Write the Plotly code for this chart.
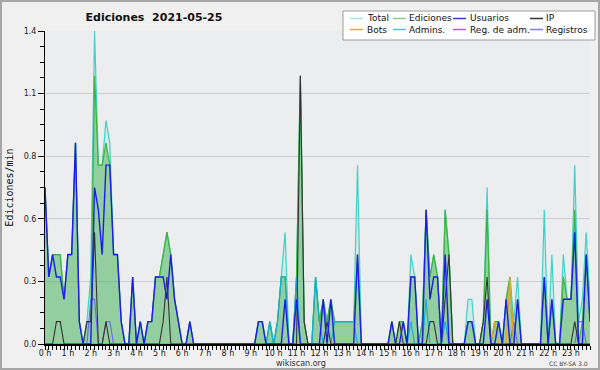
import plotly.graph_objects as go

# ---------------- data (10-minute slots, edits per minute) ----------------
hours = list(range(24))
hour_labels = [f"{h} h" for h in hours]
ytick_vals = [0, 0.28, 0.56, 0.84, 1.12, 1.4]
ytick_text = ["0.0", "0.3", "0.6", "0.8", "1.1", "1.4"]
slots = list(range(144))

total = [
    0.7, 0.3, 0.4, 0.4, 0.4, 0.2,   0.4, 0.4, 0.9, 0.1, 0, 0.1,
    0.3, 1.4, 0.8, 0.8, 1.0, 0.9,   0.4, 0.4, 0.1, 0, 0, 0.3,
    0, 0.1, 0, 0.1, 0.1, 0.3,       0.3, 0.4, 0.5, 0.4, 0.2, 0.1,
    0, 0, 0.1, 0, 0, 0,             0, 0, 0, 0, 0, 0,
    0, 0, 0, 0, 0, 0,               0, 0, 0.1, 0.1, 0, 0.1,
    0, 0.1, 0.3, 0.5, 0, 0,         0.3, 1.2, 0.1, 0, 0, 0.3,
    0.1, 0.2, 0.1, 0.2, 0.1, 0.1,   0.1, 0.1, 0.1, 0.1, 0.8, 0,
    0, 0, 0, 0, 0, 0,               0, 0.1, 0, 0.1, 0.1, 0,
    0.4, 0.3, 0, 0.1, 0.6, 0.3,     0.4, 0.3, 0, 0.6, 0.4, 0,
    0, 0, 0, 0.2, 0.2, 0,           0, 0.1, 0.7, 0, 0.1, 0.1,
    0, 0.2, 0.3, 0.1, 0.3, 0,       0, 0, 0, 0, 0, 0.6,
    0, 0.4, 0, 0, 0.4, 0.2,         0.2, 0.8, 0.1, 0.2, 0.5, 0.2,
]
ediciones = [
    0.7, 0.3, 0.4, 0.4, 0.4, 0.2,   0.4, 0.4, 0.9, 0.1, 0, 0.1,
    0.1, 1.2, 0.8, 0.8, 0.9, 0.8,   0.4, 0.4, 0.1, 0, 0, 0.3,
    0, 0.1, 0, 0.1, 0.1, 0.3,       0.3, 0.4, 0.5, 0.4, 0.2, 0.1,
    0, 0, 0.1, 0, 0, 0,             0, 0, 0, 0, 0, 0,
    0, 0, 0, 0, 0, 0,               0, 0, 0.1, 0.1, 0, 0.1,
    0, 0.1, 0.3, 0.3, 0, 0,         0.3, 1.2, 0.1, 0, 0, 0.3,
    0.1, 0.2, 0.1, 0.2, 0.1, 0.1,   0.1, 0.1, 0.1, 0.1, 0.4, 0,
    0, 0, 0, 0, 0, 0,               0, 0.1, 0, 0.1, 0.1, 0,
    0.3, 0.3, 0, 0.1, 0.6, 0.3,     0.4, 0.3, 0, 0.6, 0.4, 0,
    0, 0, 0, 0.1, 0.1, 0,           0, 0.1, 0.6, 0, 0.1, 0.1,
    0, 0.2, 0.3, 0, 0.2, 0,         0, 0, 0, 0, 0, 0.3,
    0, 0.2, 0, 0, 0.3, 0.2,         0.2, 0.6, 0, 0.1, 0.4, 0.1,
]
usuarios = [
    0.7, 0.3, 0.4, 0.3, 0.3, 0.2,   0.4, 0.4, 0.9, 0.1, 0, 0,
    0, 0.7, 0.6, 0.4, 0.8, 0.8,     0.4, 0.4, 0.1, 0, 0, 0.3,
    0, 0.1, 0, 0.1, 0.1, 0.3,       0.3, 0.3, 0.2, 0.4, 0.2, 0.1,
    0, 0, 0.1, 0, 0, 0,             0, 0, 0, 0, 0, 0,
    0, 0, 0, 0, 0, 0,               0, 0, 0.1, 0.1, 0, 0,
    0, 0, 0, 0.2, 0, 0,             0.2, 0, 0, 0, 0, 0,
    0, 0.2, 0, 0.2, 0, 0,           0, 0, 0, 0, 0.4, 0,
    0, 0, 0, 0, 0, 0,               0, 0.1, 0, 0, 0.1, 0,
    0.3, 0.3, 0, 0, 0.6, 0.2,       0.3, 0.3, 0, 0.4, 0, 0,
    0, 0, 0, 0.1, 0.1, 0,           0, 0, 0.2, 0, 0, 0.1,
    0, 0.2, 0, 0, 0.2, 0,           0, 0, 0, 0, 0, 0.3,
    0, 0.2, 0, 0, 0.2, 0.2,         0.2, 0.5, 0, 0, 0.4, 0.1,
]
ip = [
    0, 0, 0, 0.1, 0.1, 0,           0, 0, 0, 0, 0, 0.1,
    0.1, 0.5, 0, 0, 0.1, 0,         0, 0, 0, 0, 0, 0,
    0, 0, 0, 0, 0, 0,               0, 0.1, 0.3, 0, 0, 0,
    0, 0, 0, 0, 0, 0,               0, 0, 0, 0, 0, 0,
    0, 0, 0, 0, 0, 0,               0, 0, 0, 0, 0, 0,
    0, 0, 0, 0, 0, 0,               0, 1.2, 0.1, 0, 0, 0,
    0, 0, 0.1, 0, 0, 0,             0, 0, 0, 0, 0, 0,
    0, 0, 0, 0, 0, 0,               0, 0, 0, 0.1, 0, 0,
    0, 0, 0, 0, 0, 0.1,             0.1, 0, 0, 0.2, 0.4, 0,
    0, 0, 0, 0, 0, 0,               0, 0.1, 0.3, 0, 0, 0,
    0, 0, 0, 0, 0, 0,               0, 0, 0, 0, 0, 0,
    0, 0, 0, 0, 0, 0,               0, 0.1, 0, 0, 0, 0,
]
bots = [0] * 118 + [0.1, 0, 0, 0, 0.3] + [0] * 21
admins = (
    [0] * 59 + [0.1, 0, 0.1, 0.3, 0.3, 0, 0, 0.3, 0, 0, 0, 0, 0.3,
                0.1, 0, 0, 0, 0.1, 0.1, 0.1, 0.1, 0.1, 0.1]
    + [0] * 14 + [0.1, 0, 0, 0, 0.2, 0, 0, 0, 0, 0.1] + [0] * 38
)
reg_adm = [0] * 144
registros = (
    [0] * 12 + [0.2, 0.2, 0, 0, 0.1, 0.1] + [0] * 105
    + [0.1] + [0] * 16 + [0.1, 0.1, 0, 0]
)

series = [
    ("Total", total), ("Ediciones", ediciones), ("Usuarios", usuarios), ("IP", ip),
    ("Bots", bots), ("Admins.", admins), ("Reg. de adm.", reg_adm), ("Registros", registros),
]

# ---------------- styles ----------------
line_colors = {
    "Total": "#3fd2c6", "Ediciones": "#3cb43c", "Usuarios": "#1c1ce8", "IP": "#333333",
    "Bots": "#f0a020", "Admins.": "#16acdc", "Reg. de adm.": "#cc33cc", "Registros": "#6868f2",
}
legend_colors = {
    "Total": "#a6e4dc", "Ediciones": "#86d086", "Usuarios": "#3a3ad0", "IP": "#333333",
    "Bots": "#f0a040", "Admins.": "#4cc6d6", "Reg. de adm.": "#d050d0", "Registros": "#7c7cee",
}
widths = {"Total": 1.2, "Ediciones": 1.2, "Usuarios": 1.4, "IP": 1.1,
          "Bots": 1.3, "Admins.": 1.2, "Reg. de adm.": 1.0, "Registros": 1.1}
fills = {"Total": "rgba(120,225,214,0.22)", "Ediciones": "rgba(60,168,60,0.42)"}
draw_order = ["Total", "Ediciones", "Registros", "Reg. de adm.", "Admins.", "Bots", "IP", "Usuarios"]

data = dict(series)
fig = go.Figure()
for name in draw_order:
    kw = {}
    if name in fills:
        kw = dict(fill="tozeroy", fillcolor=fills[name])
    fig.add_trace(go.Scatter(
        x=slots, y=data[name], name=name, mode="lines",
        line=dict(color=line_colors[name], width=widths[name]),
        showlegend=False, hoverinfo="skip", **kw))

# plot-area pixel geometry
PL, PR, PT, PB = 45, 590, 31, 344
def px(x):
    return (x - PL) / (PR - PL)
def py(y):
    return (PB - y) / (PB - PT)

FONT = "DejaVu Sans"
shapes = [
    dict(type="rect", xref="paper", yref="paper", x0=px(1), x1=px(599), y0=py(369), y1=py(1),
         line=dict(color="#a6a6a6", width=2), layer="above"),
    dict(type="rect", xref="paper", yref="paper", x0=px(343), x1=px(595), y0=py(40), y1=py(11),
         line=dict(color="#9c9c9c", width=1), fillcolor="#ffffff", layer="above"),
]
annotations = []
legend_cols_line = [350, 393, 453, 530]
legend_cols_text = [366, 408, 469, 545]
legend_rows = [18.5, 29.5]
for k, (name, _) in enumerate(series):
    col, row = k % 4, k // 4
    yy = legend_rows[row]
    shapes.append(dict(type="line", xref="paper", yref="paper",
                       x0=px(legend_cols_line[col]), x1=px(legend_cols_line[col] + 13),
                       y0=py(yy), y1=py(yy), line=dict(color=legend_colors[name], width=1.5),
                       layer="above"))
    annotations.append(dict(text=name, xref="paper", yref="paper", x=px(legend_cols_text[col]),
                            y=py(yy), xanchor="left", yanchor="middle", showarrow=False,
                            borderpad=0, font=dict(family=FONT, size=9, color="#111111")))

annotations.append(dict(text="wikiscan.org", xref="paper", yref="paper", x=px(301), y=py(363),
                        xanchor="center", yanchor="middle", showarrow=False,
                        font=dict(family=FONT, size=8, color="#333333")))
annotations.append(dict(text="CC BY-SA 3.0", xref="paper", yref="paper", x=px(590), y=py(363),
                        xanchor="right", yanchor="middle", showarrow=False,
                        font=dict(family=FONT, size=6, color="#444444")))

fig.update_layout(
    width=600, height=370,
    margin=dict(l=PL, r=600 - PR, t=PT, b=370 - PB, pad=0),
    paper_bgcolor="#f0f0f0", plot_bgcolor="#ecedef",
    title=dict(text="<b>Ediciones\u00a0 2021-05-25</b>", x=154 / 600, xref="container",
               xanchor="center", y=1 - 17 / 370, yref="container", yanchor="middle",
               font=dict(family=FONT, size=11, color="#111111")),
    showlegend=False,
    shapes=shapes, annotations=annotations,
    hovermode=False,
)
fig.update_xaxes(
    range=[0, 143], tickvals=[6 * h for h in hours], ticktext=hour_labels,
    ticks="outside", ticklen=4, tickwidth=1, tickcolor="#000000",
    minor=dict(dtick=1, tick0=0, ticks="outside", ticklen=4, tickcolor="#000000", showgrid=False),
    showline=True, linecolor="#000000", linewidth=2, showgrid=False, zeroline=False,
    tickfont=dict(family=FONT, size=8, color="#222222"),
    ticklabelstandoff=-4,
)
fig.update_yaxes(
    range=[0, 1.4], tickvals=ytick_vals, ticktext=ytick_text,
    ticks="outside", ticklen=6, tickwidth=1, tickcolor="#000000",
    minor=dict(dtick=0.07, tick0=0, ticks="outside", ticklen=4, tickcolor="#000000", showgrid=False),
    showline=True, linecolor="#000000", linewidth=1, showgrid=True, gridcolor="#cdced2",
    gridwidth=1, zeroline=False,
    tickfont=dict(family=FONT, size=8, color="#222222"),
    title=dict(text="Ediciones/min", standoff=8,
               font=dict(family="DejaVu Sans Mono", size=10, color="#111111")),
)

fig.write_html("out.html", config={"displayModeBar": False},
               post_script="document.body.style.margin='0';")
